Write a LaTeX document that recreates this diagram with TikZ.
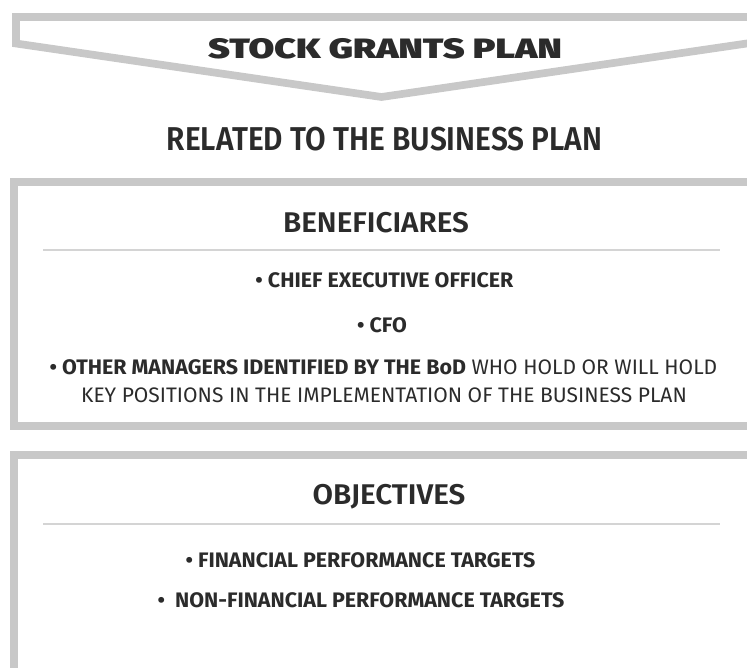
\documentclass[tikz,border=0pt]{standalone}
\usepackage{fontspec}
\usepackage{xcolor}
\setmainfont{Fira Sans}[BoldFont={* Bold}, BoldFeatures={FakeStretch=1.02}]
\newfontfamily\titlefont{Fira Sans}[UprightFont={* Black}, FakeStretch=1.33]
\newfontfamily\headfont{Fira Sans}[UprightFont={* SemiBold}, FakeStretch=0.905]
\newfontfamily\subheadfont{Fira Sans}[UprightFont={* SemiBold}, FakeStretch=1.04]

\definecolor{panelgray}{HTML}{C8C8C8}
\definecolor{rulegray}{HTML}{D4D4D4}
\definecolor{ink}{HTML}{2B2B2B}

\begin{document}
\begin{tikzpicture}[x=1pt, y=-1pt,
    panel/.style={draw=panelgray, line width=7.7pt, line join=miter},
    sepline/.style={draw=rulegray, line width=1.3pt},
    title/.style={text=ink, inner sep=0pt, font=\titlefont\fontsize{28}{33}\selectfont},
    head/.style={text=ink, inner sep=0pt, font=\headfont\fontsize{33}{38}\selectfont},
    subhead/.style={text=ink, inner sep=0pt, font=\subheadfont\fontsize{28.5}{34}\selectfont},
    item/.style={text=ink, inner sep=0pt, font=\fontsize{21}{25}\selectfont}]
    \useasboundingbox (0,0) rectangle (747,668);
    \clip (0,0) rectangle (747,668);

    % chevron and the two panels
    \draw[panel] (770,17) -- (16,17) -- (16,43.5) -- (381.5,97) -- (770,40.1);
    \draw[panel] (770,182) -- (14,182) -- (14,426) -- (770,426);
    \draw[panel] (770,455) -- (14,455) -- (14,690);

    \node[title] (plan) at (385,49) {STOCK GRANTS PLAN};
    \node[head] (related) at (384.5,139) {RELATED TO THE BUSINESS PLAN};

    % beneficiaries
    \node[subhead] (benef) at (376,223) {BENEFICIARES};
    \coordinate (s1l) at (43,250);
    \coordinate (s1r) at (720,250);
    \draw[sepline] (s1l) -- (s1r);
    \node[item] (ceo) at (384.5,280.5) {\textbf{• CHIEF EXECUTIVE OFFICER}};
    \node[item] (cfo) at (382,325) {\textbf{• CFO}};
    \node[item] (mgr) at (383.5,367) {\textbf{• OTHER MANAGERS IDENTIFIED BY THE BoD} WHO HOLD OR WILL HOLD};
    \node[item] (key) at (384,395.5) {KEY POSITIONS IN THE IMPLEMENTATION OF THE BUSINESS PLAN};

    % objectives
    \node[subhead] (obj) at (389,497) {OBJECTIVES};
    \coordinate (s2l) at (43,524);
    \coordinate (s2r) at (720,524);
    \draw[sepline] (s2l) -- (s2r);
    \node[item] (fin) at (360.5,560) {\textbf{• FINANCIAL PERFORMANCE TARGETS}};
    \node[item] (nonfin) at (361,600) {\textbf{•~ NON-FINANCIAL PERFORMANCE TARGETS}};
\end{tikzpicture}
\end{document}
